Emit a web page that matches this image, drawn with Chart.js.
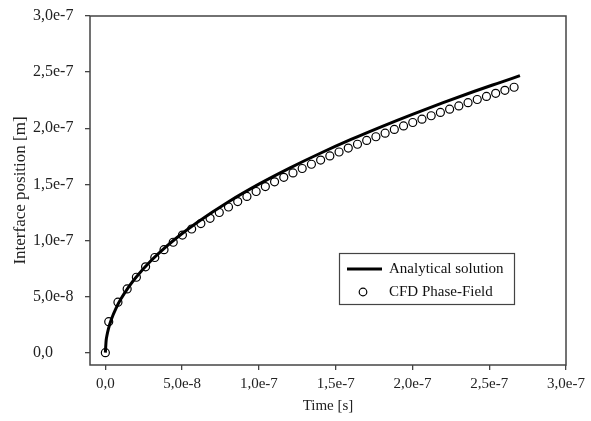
<!DOCTYPE html>
<html>
<head>
<meta charset="utf-8">
<script src="https://cdn.jsdelivr.net/npm/chart.js@4"></script>
<style>
	body { margin: 0; background: #fff; }
	canvas { display: block; }
</style>
</head>
<body>
<canvas id="chart" width="591" height="421"></canvas>
<script>
// Analytical solution (time in ns, position in nm)
var analyticalTime = [0, 0.5, 1, 2, 4, 7, 10, 15, 20, 30, 40, 50, 60, 80, 100, 120, 140, 160, 180, 200, 220, 240, 255, 270]
var analyticalPos = [0, 10.6, 15.0, 21.2, 30.0, 39.7, 47.5, 58.2, 67.2, 82.3, 95.0, 106.2, 116.3, 134.3, 150.2, 164.5, 177.7, 190.0, 201.5, 212.4, 222.8, 232.7, 239.8, 246.8]

// CFD Phase-Field (time in ns, position in nm)
var cfdTime = [0, 2.2, 8.2, 14.2, 20.2, 26.2, 32.2, 38.2, 44.2, 50.2, 56.2, 62.2, 68.2, 74.2, 80.2, 86.2,
	92.2, 98.2, 104.2, 110.2, 116.2, 122.2, 128.2, 134.2, 140.2, 146.2, 152.2, 158.2, 164.2, 170.2,
	176.2, 182.2, 188.2, 194.2, 200.2, 206.2, 212.2, 218.2, 224.2, 230.2, 236.2, 242.2, 248.2, 254.2, 260.2, 266.2]
var cfdPos = [0, 27.6, 45.0, 56.8, 67.2, 76.5, 84.8, 91.8, 98.4, 104.8, 110.2, 115.0, 119.7, 124.9, 129.8, 134.6,
	139.2, 143.6, 148.0, 152.2, 156.2, 160.2, 164.1, 167.9, 171.6, 175.3, 178.8, 182.3, 185.7, 189.1,
	192.4, 195.6, 198.9, 202.0, 205.1, 208.1, 211.1, 214.1, 217.0, 219.9, 222.8, 225.6, 228.3, 231.1, 233.8, 236.5]

var xTicks = [0, 5e-8, 1e-7, 1.5e-7, 2e-7, 2.5e-7, 3e-7]
var yTicks = [0, 5e-8, 1e-7, 1.5e-7, 2e-7, 2.5e-7, 3e-7]

var serif = "'Liberation Serif', 'Times New Roman', serif"
var frameColor = '#444'

function toPoints(times, values) {
	return times.map((t, i) => ({ x: t * 1e-9, y: values[i] * 1e-9 }))
}

// format like 5,0e-8
function sciLabel(v) {
	if (Math.abs(v) < 1e-15) return '0,0'
	return v.toExponential(1).replace('.', ',')
}

// frame around the plot area
var framePlugin = {
	id: 'frame',
	afterDraw(chart) {
		var a = chart.chartArea
		var ctx = chart.ctx
		ctx.save()
		ctx.strokeStyle = frameColor
		ctx.lineWidth = 1.5
		ctx.strokeRect(a.left, a.top, a.right - a.left, a.bottom - a.top)
		ctx.restore()
	}
}

// legend box inside the plot
var legendPlugin = {
	id: 'boxLegend',
	afterDraw(chart) {
		var ctx = chart.ctx
		ctx.save()
		ctx.fillStyle = '#fff'
		ctx.fillRect(339, 253, 175, 51)
		ctx.strokeStyle = frameColor
		ctx.lineWidth = 1.2
		ctx.strokeRect(339.5, 253.5, 175, 51)

		ctx.strokeStyle = '#000'
		ctx.lineWidth = 3
		ctx.beginPath()
		ctx.moveTo(347, 269)
		ctx.lineTo(382, 269)
		ctx.stroke()

		ctx.lineWidth = 1.2
		ctx.beginPath()
		ctx.arc(363, 292, 3.8, 0, Math.PI * 2)
		ctx.stroke()

		ctx.fillStyle = '#111'
		ctx.font = '15px ' + serif
		ctx.textBaseline = 'middle'
		ctx.fillText(chart.data.datasets[0].label, 389, 269)
		ctx.fillText(chart.data.datasets[1].label, 389, 292)
		ctx.restore()
	}
}

var ctx = document.getElementById('chart').getContext('2d')
var chart = new Chart(ctx, {
	type: 'scatter',
	data: {
		datasets: [{
			label: 'Analytical solution',
			data: toPoints(analyticalTime, analyticalPos),
			showLine: true,
			borderColor: '#000',
			borderWidth: 3,
			pointRadius: 0,
			cubicInterpolationMode: 'monotone',
			order: 2
		}, {
			label: 'CFD Phase-Field',
			data: toPoints(cfdTime, cfdPos),
			showLine: false,
			borderColor: '#000',
			backgroundColor: 'rgba(0,0,0,0)',
			pointRadius: 4,
			pointBorderWidth: 1.2,
			order: 1
		}]
	},
	options: {
		responsive: false,
		animation: false,
		layout: { padding: { left: 33, right: 25, top: 16, bottom: 0 } },
		plugins: {
			legend: { display: false },
			tooltip: { enabled: false }
		},
		scales: {
			x: {
				type: 'linear',
				min: -1e-8,
				max: 3e-7,
				afterBuildTicks: scale => { scale.ticks = xTicks.map(v => ({ value: v })) },
				afterFit: scale => { scale.height = 56 },
				border: { display: false },
				grid: { drawOnChartArea: false, tickLength: 5, color: frameColor, lineWidth: 1.3 },
				ticks: {
					color: '#222',
					padding: 5,
					font: { family: serif, size: 15 },
					callback: v => sciLabel(v)
				},
				title: {
					display: true,
					text: 'Time [s]',
					color: '#222',
					font: { family: serif, size: 15 },
					padding: { top: 0, bottom: 6 }
				}
			},
			y: {
				type: 'linear',
				min: -1.1e-8,
				max: 3e-7,
				afterBuildTicks: scale => { scale.ticks = yTicks.map(v => ({ value: v })) },
				afterFit: scale => { scale.width = 57 },
				border: { display: false },
				grid: { drawOnChartArea: false, tickLength: 5, color: frameColor, lineWidth: 1.3 },
				ticks: {
					color: '#222',
					padding: 6,
					crossAlign: 'far',
					font: { family: serif, size: 16 },
					callback: v => sciLabel(v)
				},
				title: {
					display: true,
					text: 'Interface position [m]',
					color: '#222',
					font: { family: serif, size: 17 },
					// title sits left of the label column, outside the scale box
					padding: { top: -23, bottom: 0 }
				}
			}
		}
	},
	plugins: [framePlugin, legendPlugin]
})
</script>
</body>
</html>
